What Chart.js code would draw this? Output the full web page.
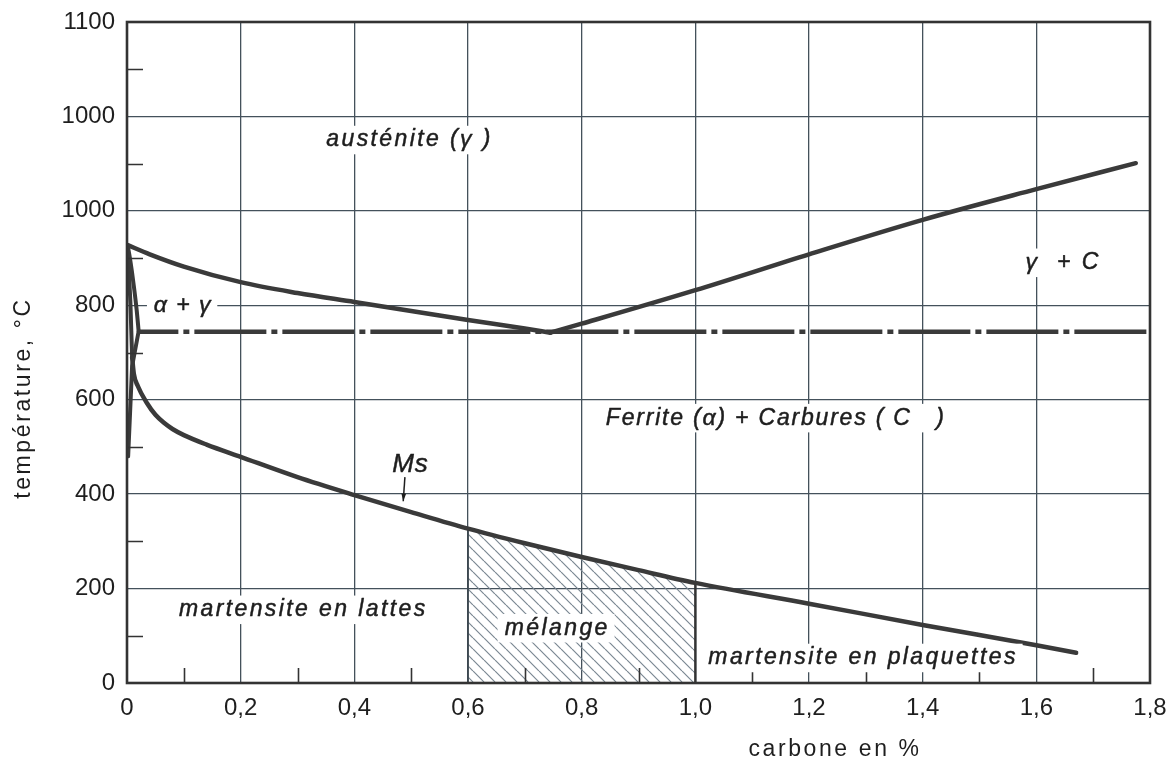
<!DOCTYPE html>
<html><head><meta charset="utf-8">
<script src="https://cdn.jsdelivr.net/npm/chart.js@4"></script>
<style>html,body{margin:0;padding:0;background:#fff;}canvas{display:block;}</style>
</head><body>
<canvas id="c" width="1168" height="762"></canvas>
<script>
// ---------- data ----------
const xTickLabels = ['0','0,2','0,4','0,6','0,8','1,0','1,2','1,4','1,6','1,8'];
const yTickLabels = ['0','200','400','600','800','1000','1000','1100'];
const xMinorTicks = [0.1,0.3,0.5,0.7,0.9,1.1,1.3,1.5,1.7];
const yMinorTicks = [100,300,500,700,900,1100,1300];

// A3 (gamma / alpha+gamma boundary)
const a3X = [0, 0.04, 0.1, 0.2, 0.3, 0.4, 0.5, 0.6, 0.7, 0.745];
const a3T = [928, 908, 882, 849, 826, 807, 788, 769, 751, 742];
// Acm (gamma / gamma+C boundary)
const acmX = [0.745, 0.8, 1.0, 1.2, 1.4, 1.6, 1.775];
const acmT = [742, 761, 832, 908, 981, 1046, 1101];
// alpha+gamma low-carbon boundary
const agX = [0.001, 0.006, 0.012, 0.017, 0.0205];
const agT = [928, 893, 841, 790, 745];
// ferrite solvus
const solvX = [0.002, 0.009, 0.0205];
const solvT = [480, 671, 745];
// eutectoid line
const eutX = [0.02, 1.8];
const eutT = [744, 744];
// Ms curve: steep upper branch, then main curve
const msUpX = [0.001, 0.006, 0.009];
const msUpT = [928, 805, 690];
const msX = [0.009, 0.012, 0.019, 0.035, 0.05, 0.065, 0.08, 0.1, 0.14, 0.2, 0.3, 0.4, 0.5, 0.6, 0.7, 0.8, 0.9, 1.0, 1.2, 1.4, 1.6, 1.67];
const msT = [690, 655, 629, 593, 568, 551, 538, 525, 505, 479, 436, 398, 362, 327, 296, 267, 239, 212, 168, 123, 80, 64];
// mixed zone
const melangeRange = [0.6, 1.0];

// ---------- helpers ----------
const pts = (xs, ys) => xs.map((v, i) => ({x: v, y: ys[i]}));
const melPts = pts(msX, msT).filter(p => p.x >= melangeRange[0] - 1e-9 && p.x <= melangeRange[1] + 1e-9);
const msAt1 = melPts[melPts.length - 1].y;
const msAt0 = melPts[0].y;

function hatch() {
  const s = 11, c = document.createElement('canvas');
  c.width = s; c.height = s;
  const g = c.getContext('2d');
  g.strokeStyle = '#7b8893'; g.lineWidth = 1.2;
  g.beginPath();
  for (const k of [-s, 0, s]) { g.moveTo(k, 0); g.lineTo(k + s, s); }
  g.stroke();
  return g.createPattern(c, 'repeat');
}

const FONT = "'Liberation Sans', Arial, sans-serif";
Chart.defaults.font.family = FONT;
Chart.defaults.color = '#1e1e1e';
const TXT = '#1e1e1e';

const LINE = '#3a3a3a';
const curve = (data, extra) => Object.assign({
  data, showLine: true, pointRadius: 0, borderColor: LINE, borderWidth: 4.5,
  borderCapStyle: 'round', borderJoinStyle: 'round', fill: false,
  cubicInterpolationMode: 'monotone'
}, extra || {});
const straight = {cubicInterpolationMode: 'default', tension: 0};

const annotations = [
  {text: 'austénite (γ )', x: 0.495, y: 1150, size: 23, sp: 2.4, box: true},
  {text: 'γ  + C', x: 1.645, y: 890, size: 23, sp: 2.4, box: true},
  {text: 'α + γ', x: 0.097, y: 800, size: 23, sp: 1.5, box: true},
  {text: 'Ferrite (α) + Carbures ( C   )', x: 1.14, y: 561, size: 23, sp: 1.8, box: true},
  {text: 'Ms', x: 0.498, y: 462, size: 26, sp: 1, box: false},
  {text: 'martensite en lattes', x: 0.308, y: 155, size: 23, sp: 2.4, box: true},
  {text: 'mélange', x: 0.755, y: 116, size: 23, sp: 2.4, box: true},
  {text: 'martensite en plaquettes', x: 1.293, y: 53, size: 23, sp: 2.4, box: true}
];
const msArrow = {from: [0.489, 436], to: [0.486, 385]};

const decor = {
  id: 'decor',
  afterDatasetsDraw(chart) {
    const {ctx, chartArea: a, scales: {x, y}} = chart;
    ctx.save();
    ctx.strokeStyle = '#333';
    ctx.lineWidth = 1.6;
    ctx.beginPath();
    for (const v of yMinorTicks) { const py = Math.round(y.getPixelForValue(v)) + 0.5; ctx.moveTo(a.left, py); ctx.lineTo(a.left + 16, py); }
    for (const v of xMinorTicks) { const px = Math.round(x.getPixelForValue(v)) + 0.5; ctx.moveTo(px, a.bottom); ctx.lineTo(px, a.bottom - 15); }
    ctx.stroke();
    // frame
    ctx.lineWidth = 2.6;
    ctx.strokeRect(a.left, a.top, a.right - a.left, a.bottom - a.top);
    // labels
    ctx.textAlign = 'center';
    ctx.textBaseline = 'middle';
    ctx.lineJoin = 'round';
    for (const an of annotations) {
      ctx.font = `italic ${an.size}px ${FONT}`;
      ctx.letterSpacing = an.sp + 'px';
      const px = x.getPixelForValue(an.x), py = y.getPixelForValue(an.y);
      const w = ctx.measureText(an.text).width;
      if (an.box) {
        ctx.fillStyle = '#fff';
        ctx.fillRect(px - w / 2 - 6, py - an.size * 0.62, w + 12, an.size * 1.24);
      }
      ctx.fillStyle = TXT;
      ctx.strokeStyle = TXT;
      ctx.lineWidth = 0.5;
      ctx.fillText(an.text, px + an.sp / 2, py);
      ctx.strokeText(an.text, px + an.sp / 2, py);
    }
    // Ms arrow
    const x1 = x.getPixelForValue(msArrow.from[0]), y1 = y.getPixelForValue(msArrow.from[1]);
    const x2 = x.getPixelForValue(msArrow.to[0]), y2 = y.getPixelForValue(msArrow.to[1]);
    ctx.strokeStyle = TXT; ctx.lineWidth = 1.5;
    ctx.beginPath(); ctx.moveTo(x1, y1); ctx.lineTo(x2, y2); ctx.stroke();
    const ang = Math.atan2(y2 - y1, x2 - x1);
    ctx.fillStyle = TXT;
    ctx.beginPath();
    ctx.moveTo(x2, y2);
    ctx.lineTo(x2 - 8 * Math.cos(ang - 0.3), y2 - 8 * Math.sin(ang - 0.3));
    ctx.lineTo(x2 - 8 * Math.cos(ang + 0.3), y2 - 8 * Math.sin(ang + 0.3));
    ctx.closePath(); ctx.fill();
    // axis titles
    ctx.font = `23px ${FONT}`;
    ctx.letterSpacing = '2.6px';
    ctx.fillStyle = TXT;
    ctx.fillText('carbone en %', 835, 750);
    ctx.translate(24, 398);
    ctx.rotate(-Math.PI / 2);
    ctx.fillText('température, °C', 0, 0);
    ctx.restore();
  }
};

const GRID = '#44515b';
new Chart(document.getElementById('c'), {
  type: 'scatter',
  data: {
    datasets: [
      curve(pts(eutX, eutT), Object.assign({borderDash: [72, 5, 6, 5], borderDashOffset: 32, borderCapStyle: 'butt'}, straight)),
      curve(pts(a3X, a3T)),
      curve(pts(acmX, acmT)),
      curve(pts(agX, agT), {borderWidth: 4}),
      curve(pts(solvX, solvT), Object.assign({borderWidth: 4}, straight)),
      curve(pts(msUpX, msUpT), Object.assign({borderWidth: 4}, straight)),
      curve(pts(msX, msT)),
      curve([{x: melangeRange[1], y: 0}, {x: melangeRange[1], y: msAt1}], Object.assign({borderWidth: 2.4, borderColor: '#333'}, straight)),
      curve([{x: melangeRange[0], y: 0}, {x: melangeRange[0], y: msAt0}], Object.assign({borderWidth: 1.8, borderColor: '#3d4850'}, straight)),
      {data: melPts, showLine: true, pointRadius: 0, borderWidth: 0, borderColor: 'rgba(0,0,0,0)',
       backgroundColor: hatch(), fill: 'origin', cubicInterpolationMode: 'monotone'}
    ]
  },
  options: {
    responsive: false,
    animation: false,
    events: [],
    layout: {padding: {left: 0, top: 22, right: 18, bottom: 0}},
    plugins: {legend: {display: false}, tooltip: {enabled: false}},
    scales: {
      x: {
        type: 'linear', min: 0, max: 1.8,
        afterFit: s => { s.height = 79; s.paddingLeft = 0; s.paddingRight = 0; },
        border: {display: false},
        grid: {color: GRID, lineWidth: 1.3, drawTicks: false},
        ticks: {stepSize: 0.2, autoSkip: false, maxRotation: 0, padding: 11,
                font: {size: 24}, color: TXT,
                callback: v => xTickLabels[Math.round(v / 0.2)]}
      },
      y: {
        type: 'linear', min: 0, max: 1400,
        afterFit: s => { s.width = 127; s.paddingTop = 0; s.paddingBottom = 0; },
        border: {display: false},
        grid: {color: GRID, lineWidth: 1.3, drawTicks: false},
        ticks: {stepSize: 200, autoSkip: false, padding: 12,
                font: {size: 24}, color: TXT,
                callback: v => yTickLabels[Math.round(v / 200)]}
      }
    }
  },
  plugins: [decor]
});
</script>
</body></html>
